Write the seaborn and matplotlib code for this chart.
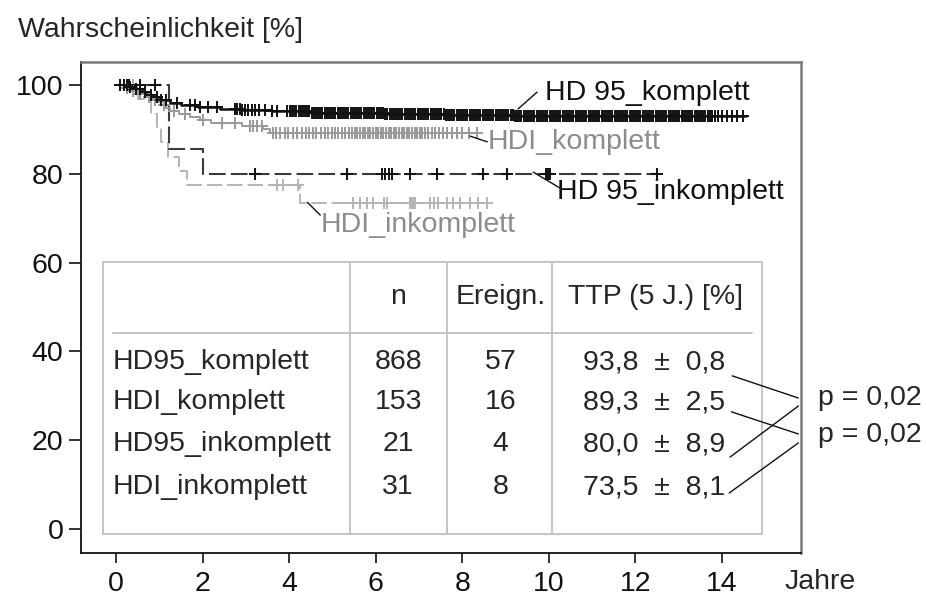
import numpy as np
import pandas as pd
import matplotlib
matplotlib.use("Agg")
import matplotlib.pyplot as plt
from matplotlib.patches import Rectangle
import seaborn as sns

# ---- Kaplan-Meier step data: event times (years) and survival (%) ----
hd95k_t = [0.15, 0.3, 0.45, 0.6, 0.75, 0.9, 1.05, 1.25, 1.5, 1.9, 2.4, 2.9, 3.6, 4.5, 6.2, 7.6, 9.2]
hd95k_s = [100.0, 99.5, 99.0, 98.4, 97.8, 97.2, 96.6, 96.0, 95.5, 95.1, 94.7, 94.4, 94.1, 93.8, 93.5, 93.2, 93.0]
hd95k_end = 14.55
hd95k_cens = [
    0.10, 0.18, 0.25, 0.32, 0.45, 0.55, 0.68, 0.80, 0.95, 1.05, 1.15, 1.4, 1.7, 1.83,
    1.94, 2.13, 2.33, 2.75, 2.80, 2.86, 2.92, 2.98, 3.05, 3.15, 3.22, 3.30, 3.45, 3.60,
    3.72, 3.95, 4.02, 4.07, 4.12, 4.17, 4.22, 4.27, 4.32, 4.37, 4.42, 4.47, 4.52, 4.57,
    4.62, 4.67, 4.72, 4.77, 4.82, 4.87, 4.92, 4.97, 5.02, 5.07, 5.12, 5.17, 5.22, 5.27,
    5.32, 5.37, 5.42, 5.47, 5.52, 5.57, 5.62, 5.67, 5.72, 5.77, 5.82, 5.87, 5.92, 5.97,
    6.02, 6.07, 6.12, 6.17, 6.22, 6.27, 6.32, 6.37, 6.42, 6.47, 6.52, 6.57, 6.62, 6.67,
    6.72, 6.77, 6.82, 6.87, 6.92, 6.97, 7.02, 7.07, 7.12, 7.17, 7.22, 7.27, 7.32, 7.37,
    7.42, 7.47, 7.52, 7.57, 7.62, 7.67, 7.72, 7.77, 7.82, 7.87, 7.92, 7.97, 8.02, 8.07,
    8.12, 8.17, 8.22, 8.27, 8.32, 8.37, 8.42, 8.47, 8.52, 8.57, 8.62, 8.67, 8.72, 8.77,
    8.82, 8.87, 8.92, 8.97, 9.02, 9.07, 9.12, 9.17, 9.22, 9.27, 9.32, 9.37, 9.42, 9.47,
    9.52, 9.57, 9.62, 9.67, 9.72, 9.77, 9.82, 9.87, 9.92, 9.97, 10.02, 10.07, 10.12,
    10.17, 10.22, 10.27, 10.32, 10.37, 10.42, 10.47, 10.52, 10.57, 10.62, 10.67, 10.72,
    10.77, 10.82, 10.87, 10.92, 10.97, 11.02, 11.07, 11.12, 11.17, 11.22, 11.27, 11.32,
    11.37, 11.42, 11.47, 11.52, 11.57, 11.62, 11.67, 11.72, 11.77, 11.82, 11.87, 11.92,
    11.97, 12.02, 12.07, 12.12, 12.17, 12.22, 12.27, 12.32, 12.37, 12.42, 12.47, 12.52,
    12.57, 12.62, 12.67, 12.72, 12.77, 12.82, 12.87, 12.92, 12.97, 13.02, 13.07, 13.12,
    13.17, 13.22, 13.27, 13.32, 13.37, 13.42, 13.47, 13.52, 13.57, 13.62, 13.67, 13.72,
    13.78, 13.85, 13.92, 14.0, 14.12, 14.24, 14.35, 14.49]

hdik_t = [0.15, 0.2, 0.35, 0.5, 0.7, 0.85, 0.95, 1.05, 1.15, 1.25, 1.45, 1.7, 1.95, 2.2, 2.9, 3.4, 3.55]
hdik_s = [100.0, 99.3, 98.7, 98.0, 97.4, 96.7, 96.1, 95.4, 94.8, 94.1, 93.4, 92.8, 92.1, 91.4, 90.7, 90.0, 89.3]
hdik_end = 8.35
hdik_cens = [
    0.25, 0.4, 0.55, 0.75, 0.9, 1.1, 1.35, 1.6, 2.0, 2.45, 2.75, 3.1, 3.17, 3.26, 3.37,
    3.62, 3.70, 3.78, 3.90, 3.98, 4.10, 4.18, 4.30, 4.38, 4.46, 4.55, 4.63, 4.74, 4.82,
    4.90, 4.98, 5.06, 5.14, 5.22, 5.30, 5.38, 5.45, 5.52, 5.58, 5.64, 5.70, 5.76, 5.82,
    5.88, 5.94, 6.00, 6.06, 6.12, 6.18, 6.24, 6.30, 6.36, 6.42, 6.48, 6.54, 6.60, 6.66,
    6.72, 6.78, 6.84, 6.90, 6.96, 7.02, 7.08, 7.14, 7.22, 7.30, 7.38, 7.46, 7.56, 7.66,
    7.76, 7.88, 8.0, 8.15, 8.35]

hd95i_t = [0.15, 1.22, 2.0]
hd95i_s = [100.0, 85.7, 80.0]
hd95i_end = 12.5
hd95i_cens = [0.3, 0.55, 0.9, 3.2, 5.34, 6.15, 6.22, 6.3, 6.38, 6.8, 7.42, 8.48, 9.04, 9.93,
              9.98, 10.03, 12.5]

hdii_t = [0.15, 0.5, 0.8, 0.95, 1.05, 1.2, 1.45, 1.65, 4.25]
hdii_s = [100.0, 96.8, 93.5, 90.3, 87.1, 83.9, 80.6, 77.4, 73.5]
hdii_end = 8.58
hdii_cens = [0.4, 3.72, 3.86, 4.2, 5.48, 5.64, 5.8, 5.94, 6.2, 6.26, 6.8, 6.84, 6.87, 6.9,
             7.26, 7.35, 7.44, 7.65, 7.79, 7.95, 8.18, 8.37, 8.58]

# ---- summary table ----
groups = ["HD95_komplett", "HDI_komplett", "HD95_inkomplett", "HDI_inkomplett"]
n_pat = [868, 153, 21, 31]
n_events = [57, 16, 4, 8]
ttp5 = [93.8, 89.3, 80.0, 73.5]
ttp5_se = [0.8, 2.5, 8.9, 8.1]
col_headers = ["n", "Ereign.", "TTP (5 J.) [%]"]
p_values = ["p = 0,02", "p = 0,02"]

curve_labels = ["HD 95_komplett", "HDI_komplett", "HD 95_inkomplett", "HDI_inkomplett"]

x_ticks = [0, 2, 4, 6, 8, 10, 12, 14]
y_ticks = [0, 20, 40, 60, 80, 100]


def steps_frame(t, s, end):
    return pd.DataFrame({"t": list(t) + [end], "s": list(s) + [s[-1]]})


def surv_at(t, s, x):
    idx = np.searchsorted(np.asarray(t), np.asarray(x), side="right") - 1
    idx = np.clip(idx, 0, len(s) - 1)
    return np.asarray(s)[idx]


sns.set_style("white")
plt.rcParams["font.family"] = ["Liberation Sans", "DejaVu Sans"]
FS = 20.5

fig = plt.figure(figsize=(9.26, 6.01), dpi=100)
ax = fig.add_axes([0.0872, 0.0799, 0.7778, 0.8174])

black = "#111111"
dark = "#3a3a3a"
mid = "#9a9a9a"
light = "#b4b4b4"
label_gray = "#8c8c8c"

series = [
    (hdii_t, hdii_s, hdii_end, hdii_cens, light, light, (0, (8, 2.5)), 1.4),
    (hd95i_t, hd95i_s, hd95i_end, hd95i_cens, dark, black, (0, (8, 2.5)), 1.5),
    (hdik_t, hdik_s, hdik_end, hdik_cens, mid, mid, "-", 1.4),
    (hd95k_t, hd95k_s, hd95k_end, hd95k_cens, black, black, "-", 1.8),
]
for t, s, end, cens, col, mcol, ls, lw in series:
    df = steps_frame(t, s, end)
    sns.lineplot(data=df, x="t", y="s", ax=ax, estimator=None, sort=False,
                 drawstyle="steps-post", color=col, linestyle=ls, linewidth=lw)
    cdf = pd.DataFrame({"t": cens, "s": surv_at(t, s, cens)})
    sns.scatterplot(data=cdf, x="t", y="s", ax=ax, marker="+", s=68,
                    color=mcol, linewidth=1.4, zorder=3)

# curve labels with leader lines
lab_specs = [
    (curve_labels[0], (9.92, 98.2), black, (9.29, 94.6), (9.73, 98.4), black),
    (curve_labels[1], (8.58, 87.2), label_gray, (8.18, 88.5), (8.58, 87.2), black),
    (curve_labels[2], (10.19, 75.9), black, (9.64, 80.4), (10.26, 76.8), black),
    (curve_labels[3], (4.72, 68.5), label_gray, (4.42, 73.6), (4.72, 70.7), black),
]
for txt, pos, tc, p0, p1, lc in lab_specs:
    ax.plot([p0[0], p1[0]], [p0[1], p1[1]], color=lc, lw=1.0, zorder=4)
    ax.text(pos[0], pos[1], txt, fontsize=FS, color=tc, ha="left", va="center", zorder=5)

# table frame
tbl_x0, tbl_x1, tbl_y0, tbl_y1 = -0.30, 14.93, -1.1, 60.1
ax.add_patch(Rectangle((tbl_x0, tbl_y0), tbl_x1 - tbl_x0, tbl_y1 - tbl_y0,
                       facecolor="white", edgecolor="#c4c4c4", lw=1.4, zorder=6))
for xd in [5.41, 7.65, 10.08]:
    ax.plot([xd, xd], [tbl_y0, tbl_y1], color="#c4c4c4", lw=1.4, zorder=7)
ax.plot([-0.07, 14.7], [44.1, 44.1], color="#c4c4c4", lw=1.4, zorder=7)

head_y = 52.3
ax.text(6.52, head_y, col_headers[0], fontsize=FS, ha="center", va="center", zorder=8)
ax.text(8.88, head_y, col_headers[1], fontsize=FS, ha="center", va="center", zorder=8)
ax.text(12.46, head_y, col_headers[2], fontsize=FS, ha="center", va="center", zorder=8)

row_y = [37.6, 28.6, 19.1, 9.4]
for g, n, e, v, se, yy in zip(groups, n_pat, n_events, ttp5, ttp5_se, row_y):
    ax.text(-0.07, yy, g, fontsize=FS, ha="left", va="center", zorder=8)
    ax.text(6.52, yy, f"{n}", fontsize=FS, ha="center", va="center", zorder=8)
    ax.text(8.88, yy, f"{e}", fontsize=FS, ha="center", va="center", zorder=8)
    val = f"{v:.1f}".replace(".", ",") + "  \u00b1  " + f"{se:.1f}".replace(".", ",")
    ax.text(10.8, yy, val, fontsize=FS, ha="left", va="center", zorder=8)

# p-value connectors
conn = [((14.24, 34.5), (15.77, 29.5)),
        ((14.19, 16.2), (15.77, 27.7)),
        ((14.22, 26.4), (15.77, 21.4)),
        ((14.17, 8.1), (15.77, 19.4))]
for a, b in conn:
    ax.plot([a[0], b[0]], [a[1], b[1]], color=black, lw=1.0, zorder=8, clip_on=False)
ax.text(16.23, 29.5, p_values[0], fontsize=FS, ha="left", va="center", clip_on=False)
ax.text(16.23, 21.2, p_values[1], fontsize=FS, ha="left", va="center", clip_on=False)

# axes styling
ax.set_xlim(-0.816, 15.83)
ax.set_ylim(-5.4, 105.25)
ax.set_xticks(x_ticks)
ax.set_yticks(y_ticks)
ax.set_xlabel("")
ax.set_ylabel("")
ax.tick_params(axis="both", labelsize=FS, colors=black, width=1.2)
ax.tick_params(axis="y", direction="out", length=8.5, pad=4, left=True)
ax.tick_params(axis="x", direction="out", length=7, pad=6, bottom=True)
for side in ["left", "bottom"]:
    ax.spines[side].set_color(black)
    ax.spines[side].set_linewidth(1.3)
for side in ["top", "right"]:
    ax.spines[side].set_color("#7a7a7a")
    ax.spines[side].set_linewidth(1.8)

fig.text(18 / 926, 1 - 30 / 601, "Wahrscheinlichkeit [%]", fontsize=FS, ha="left", va="center")
fig.text(785 / 926, 1 - 582 / 601, "Jahre", fontsize=FS, ha="left", va="center")

fig.savefig("out.png", dpi=100)
